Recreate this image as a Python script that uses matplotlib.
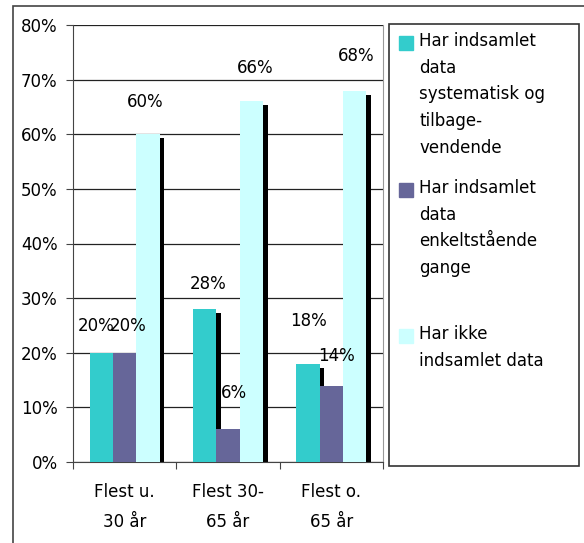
import matplotlib
matplotlib.use('Agg')
import matplotlib.pyplot as plt
import matplotlib.transforms as mtransforms
from matplotlib.patches import Rectangle
import numpy as np

groups = ['Flest u.\n30 år', 'Flest 30-\n65 år', 'Flest o.\n65 år']
series_names = ['Har indsamlet\ndata\nsystematisk og\ntilbage-\nvendende',
                'Har indsamlet\ndata\nenkeltstående\ngange\n',
                'Har ikke\nindsamlet data']
systematisk = [20, 28, 18]
enkelt = [20, 6, 14]
ikke = [60, 66, 68]
y_ticks = [0, 10, 20, 30, 40, 50, 60, 70, 80]

colors = ['#33CCCC', '#666699', '#CCFFFF']
# label offsets in pixels from the bar top (layout only)
label_offsets = [[(-5, 27), (3, 25), (0, 43)],
                 [(3, 27), (6, 36), (5, 30)],
                 [(-3, 32), (4, 33), (2, 35)]]

W, H = 584, 543
fig = plt.figure(figsize=(W / 100, H / 100), dpi=100)
plt.rcParams['font.family'] = 'DejaVu Sans'

# outer frame
fig.patches.append(Rectangle((13 / W, -0.1), 1.2, 1 - 6 / H + 0.1, transform=fig.transFigure,
                             fill=False, edgecolor='#444444', lw=1.2))

ax = fig.add_axes([73 / W, 1 - 462 / H, (383 - 73) / W, (462 - 25) / H])
x = np.arange(len(groups))
width = 0.225
offsets = [-width, 0, width]
all_series = [systematisk, enkelt, ikke]

shadow = mtransforms.offset_copy(ax.transData, fig=fig, x=4.7, y=-4, units='dots')
for vals, off in zip(all_series, offsets):
    ax.bar(x + off, vals, width, color='black', transform=shadow, zorder=2)
for vals, off, c in zip(all_series, offsets, colors):
    ax.bar(x + off, vals, width, color=c, zorder=3)

for si, (vals, off) in enumerate(zip(all_series, offsets)):
    for gi, v in enumerate(vals):
        dx, dy = label_offsets[si][gi]
        ax.annotate(f'{v}%', (x[gi] + off, v), xytext=(dx, dy), textcoords='offset pixels',
                    ha='center', va='center', fontsize=12, zorder=5)

ax.set_xlim(-0.5, 2.5)
ax.set_ylim(0, 80)
ax.set_yticks(y_ticks)
ax.set_yticklabels([f'{t}%' for t in y_ticks])
ax.yaxis.grid(True, color='#222222', lw=0.9)
ax.set_axisbelow(True)

ax.set_xticks([-0.5, 0.5, 1.5, 2.5])
ax.set_xticklabels([])
ax.set_xticks(x, minor=True)
ax.set_xticklabels(groups, minor=True, fontsize=12, linespacing=1.85)
ax.tick_params(axis='x', which='minor', length=0, pad=15)
ax.tick_params(axis='x', which='major', length=5, color='#444444')
ax.tick_params(axis='y', length=5, pad=6, labelsize=12, color='#444444')

for side in ['left', 'bottom']:
    ax.spines[side].set_color('#444444')
ax.spines['top'].set_visible(False)
ax.spines['right'].set_color('#999999')

# legend box drawn by hand
fig.patches.append(Rectangle((389 / W, 1 - 466 / H), (579 - 389) / W, (466 - 24) / H,
                             transform=fig.transFigure, fill=False, edgecolor='#333333', lw=1.2))
entry_tops = [43, 190, 336]
for name, c, ty in zip(series_names, colors, entry_tops):
    fig.patches.append(Rectangle((399 / W, 1 - (ty + 7) / H), 14 / W, 14 / H,
                                 transform=fig.transFigure, color=c))
    fig.text(419 / W, 1 - (ty - 11) / H, name, fontsize=12, va='top', ha='left',
             linespacing=1.62)

fig.savefig('out.png', dpi=100)
